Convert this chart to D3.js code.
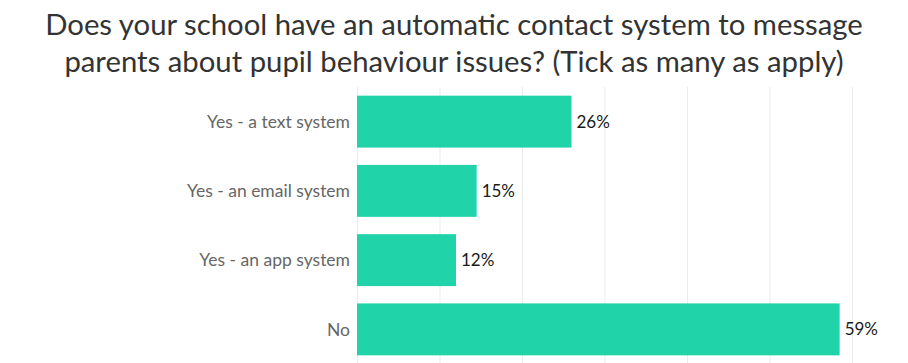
<!DOCTYPE html>
<html lang="en">
<head>
    <meta charset="UTF-8">
    <title>Automatic contact system</title>
    <style>
        body { margin: 0; background: #fff; }
        svg { display: block; font-family: 'Lato', sans-serif; }
        .grid line { stroke: #ebebeb; stroke-width: 1px; }
        .grid path { display: none; }
        .title { font-size: 29.3px; fill: #333; }
        .cat { font-size: 17.5px; fill: #666; }
        .val { font-size: 17px; fill: #1a1a1a; }
    </style>
</head>
<body>
    <svg width="908" height="363"></svg>
    <script src="https://d3js.org/d3.v7.min.js"></script>
    <script>
        // Data
        const titleLines = [
            "Does your school have an automatic contact system to message",
            "parents about pupil behaviour issues? (Tick as many as apply)"
        ];
        const categories = ["Yes - a text system", "Yes - an email system", "Yes - an app system", "No"];
        const values = [26, 14.5, 12, 58.5];
        const gridTicks = [0, 10, 20, 30, 40, 50, 60];

        const svg = d3.select("svg");

        // Title
        svg.selectAll(".title")
            .data(titleLines)
            .enter().append("text")
            .attr("class", "title")
            .attr("x", 454)
            .attr("y", function(d, i) { return 35 + i * 37; })
            .attr("text-anchor", "middle")
            .text(function(d) { return d; });

        // Scales
        const x = d3.scaleLinear()
            .domain([0, 60])
            .range([357, 852]);

        const y = d3.scaleBand()
            .domain(categories)
            .range([87, 364])
            .paddingInner(0.25)
            .paddingOuter(0.125);

        // Vertical grid lines
        svg.append("g")
            .attr("class", "grid")
            .attr("transform", "translate(0,363)")
            .call(d3.axisBottom(x)
                .tickValues(gridTicks)
                .tickSize(-276)
                .tickFormat(""));

        // Bars
        svg.selectAll(".bar")
            .data(values)
            .enter().append("rect")
            .attr("class", "bar")
            .attr("x", x(0))
            .attr("y", function(d, i) { return y(categories[i]); })
            .attr("width", function(d) { return x(d) - x(0); })
            .attr("height", y.bandwidth())
            .style("fill", "#21d3a9");

        // Category labels
        svg.selectAll(".cat")
            .data(categories)
            .enter().append("text")
            .attr("class", "cat")
            .attr("x", 350)
            .attr("y", function(d) { return y(d) + y.bandwidth() / 2; })
            .attr("dy", ".35em")
            .attr("text-anchor", "end")
            .text(function(d) { return d; });

        // Value labels
        svg.selectAll(".val")
            .data(values)
            .enter().append("text")
            .attr("class", "val")
            .attr("x", function(d) { return x(d) + 5; })
            .attr("y", function(d, i) { return y(categories[i]) + y.bandwidth() / 2; })
            .attr("dy", ".35em")
            .text(function(d) { return d3.format(".0f")(d) + "%"; });
    </script>
</body>
</html>
